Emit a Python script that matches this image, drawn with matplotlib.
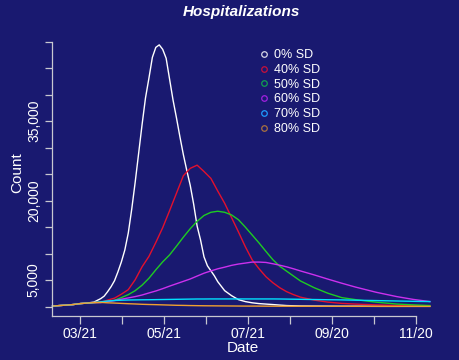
import matplotlib
matplotlib.use("Agg")
import matplotlib.pyplot as plt
import matplotlib.dates as mdates
from matplotlib.lines import Line2D
import pandas as pd

plt.rcParams['font.family'] = ['Liberation Sans', 'DejaVu Sans']

# dias desde 2020-03-01
start = pd.Timestamp('2020-03-01')
day_offsets = [0, 5, 10, 15, 20, 25, 30, 35, 40, 45, 50, 55, 60, 65, 70, 75, 80, 85, 90,
               95, 100, 105, 110, 115, 120, 125, 130, 135, 140, 145, 150, 155, 160, 165,
               170, 175, 180, 190, 200, 210, 220, 235, 250, 262, 274]
# la curva 0% SD tiene mas puntos cerca del pico
days_0 = [0, 5, 10, 15, 20, 25, 30,
          35, 37.5, 40, 42.5, 45, 47.5, 50, 52.5, 55, 57.5, 60, 62.5, 65, 67.5, 70, 72.5,
          75, 77.5, 80, 82.5, 85, 87.5, 90, 92.5, 95, 97.5, 100, 102.5, 105, 107.5, 110,
          112.5, 115, 117.5, 120,
          125, 130, 135, 140, 145, 150, 155, 160, 165, 170, 175, 180,
          190, 200, 210, 220, 235, 250, 262, 274]

sd_0 = [90, 190, 280, 380, 560, 660, 840,
        1500, 1970, 2810, 3750, 4880, 6560, 8440, 10690, 13880, 18380, 23440, 28880, 34310,
        39380, 43130, 47060, 48940, 49410, 48560, 46880, 42940, 39000, 35630, 32060, 28690,
        25690, 22880, 19310, 15190, 12560, 9380, 7690, 6750, 5810, 4690,
        3000, 2060, 1310, 940, 710, 560, 470, 380, 280, 190, 150, 110,
        90, 75, 60, 60, 40, 40, 40, 40]
sd_40 = [90, 190, 280, 380, 560, 660, 750, 790, 1220, 1590, 2340, 3190, 5060, 7500, 9470,
         12100, 14900, 18100, 21400, 24700, 26100, 26700, 25500, 24200, 21800, 19500, 16800,
         14100, 11300, 8810, 7130, 5630, 4500, 3560, 2810, 2250, 1780, 1220, 840, 600, 470,
         320, 190, 130, 75]
sd_50 = [90, 190, 280, 380, 560, 660, 750, 770, 980, 1180, 1690, 2250, 3000, 4030, 5340,
         6940, 8440, 9750, 11400, 13100, 14700, 16100, 17200, 17800, 18000, 17800, 17300,
         16400, 15000, 13500, 12000, 10400, 8850, 7610, 6680, 5760, 4840, 3560, 2510, 1690,
         1310, 830, 470, 320, 190]
sd_60 = [90, 190, 280, 380, 560, 660, 750, 750, 940, 1130, 1390, 1630, 1880, 2180, 2570,
         2940, 3380, 3860, 4310, 4760, 5210, 5760, 6300, 6730, 7130, 7440, 7780, 8030, 8210,
         8400, 8400, 8330, 8080, 7810, 7500, 7130, 6730, 5980, 5180, 4410, 3680, 2700, 1880,
         1350, 940]
sd_70 = [90, 190, 280, 380, 560, 660, 750, 900, 1050, 1140, 1200, 1240, 1260, 1280, 1290,
         1310, 1330, 1350, 1370, 1390, 1410, 1430, 1430, 1440, 1440, 1440, 1440, 1440, 1440,
         1440, 1440, 1440, 1440, 1430, 1410, 1390, 1370, 1330, 1290, 1260, 1200, 1130, 1050,
         990, 940]
sd_80 = [90, 190, 280, 380, 560, 660, 750, 790, 710, 660, 600, 540, 490, 430, 390, 360, 320,
         280, 240, 220, 190, 170, 150, 140, 130, 120, 110, 100, 90, 90, 85, 75, 75, 65, 65,
         60, 60, 55, 50, 50, 45, 45, 40, 40, 40]

series = [(days_0, sd_0), (day_offsets, sd_40), (day_offsets, sd_50),
          (day_offsets, sd_60), (day_offsets, sd_70), (day_offsets, sd_80)]
labels = ['0% SD', '40% SD', '50% SD', '60% SD', '70% SD', '80% SD']
colores = ['#ffffff', '#e3102e', '#1ecc22', '#cc30ee', '#00e2ff', '#f0a030']
colores_leyenda = ['#d8d8e8', '#c8103a', '#10a050', '#a020e0', '#1e9cff', '#a87040']

tick_labels = ['03/21', '', '05/21', '', '07/21', '', '09/20', '', '11/20']
y_ticks = [0, 5000, 10000, 15000, 20000, 25000, 30000, 35000, 40000, 45000, 50000]
y_labels = ['', '5,000', '', '', '20,000', '', '', '35,000', '', '', '']

bg = '#191970'
axis_col = '#c8c8d0'

fig = plt.figure(figsize=(4.6, 3.6), dpi=100, facecolor=bg)
ax = fig.add_axes([40 / 460, 1 - 316 / 360, 405 / 460, 286 / 360])
ax.set_facecolor(bg)

for (dias, vals), col in zip(series, colores):
    fechas = [start + pd.Timedelta(days=d) for d in dias]
    ax.plot(fechas, vals, color=col, lw=1.0)

x0 = mdates.date2num(start)
ax.set_xlim(x0 - 9.1, x0 + 285.0)
ax.set_ylim(-1781, 52219)

for s in ['top', 'right']:
    ax.spines[s].set_visible(False)
ax.spines['left'].set_position(('data', x0 - 0.36))
ax.spines['left'].set_bounds(-1781, 50000)
for s in ['left', 'bottom']:
    ax.spines[s].set_color(axis_col)
    ax.spines[s].set_linewidth(0.9)

ax.tick_params(axis='x', colors=axis_col, labelcolor='white', length=6, width=0.9,
               labelsize=10, pad=2)
ax.tick_params(axis='y', colors=axis_col, labelcolor='white', length=5, width=0.9,
               labelsize=10, pad=3, labelrotation=90)

tick_pos = [mdates.date2num(pd.Timestamp('2020-03-21')) + 30.5 * k for k in range(9)]
ax.spines['bottom'].set_bounds(x0 - 0.36, tick_pos[-1])
ax.set_xticks(tick_pos)
ax.set_xticklabels(tick_labels)
ax.set_yticks(y_ticks)
ax.set_yticklabels(y_labels, va='center', ha='right')

ax.set_xlabel('Date', color='white', fontsize=11, labelpad=0)
ax.set_ylabel('Count', color='white', fontsize=11, labelpad=2)
fig.suptitle('Hospitalizations', color='white', fontsize=11, fontweight='bold',
             style='italic', x=241 / 460, y=1 - 5 / 360, va='top')

handles = [Line2D([], [], ls='none', marker='o', mfc='none', mec=c, ms=4, mew=0.9)
           for c in colores_leyenda]
leg = ax.legend(handles, labels, loc='upper left', bbox_to_anchor=(250 / 460, 1 - 43 / 360),
                bbox_transform=fig.transFigure, frameon=False, fontsize=9,
                labelspacing=0.22, handletextpad=0.2, handlelength=1.2, borderpad=0)
for t in leg.get_texts():
    t.set_color('white')

fig.savefig('out.png', dpi=100, facecolor=bg)
